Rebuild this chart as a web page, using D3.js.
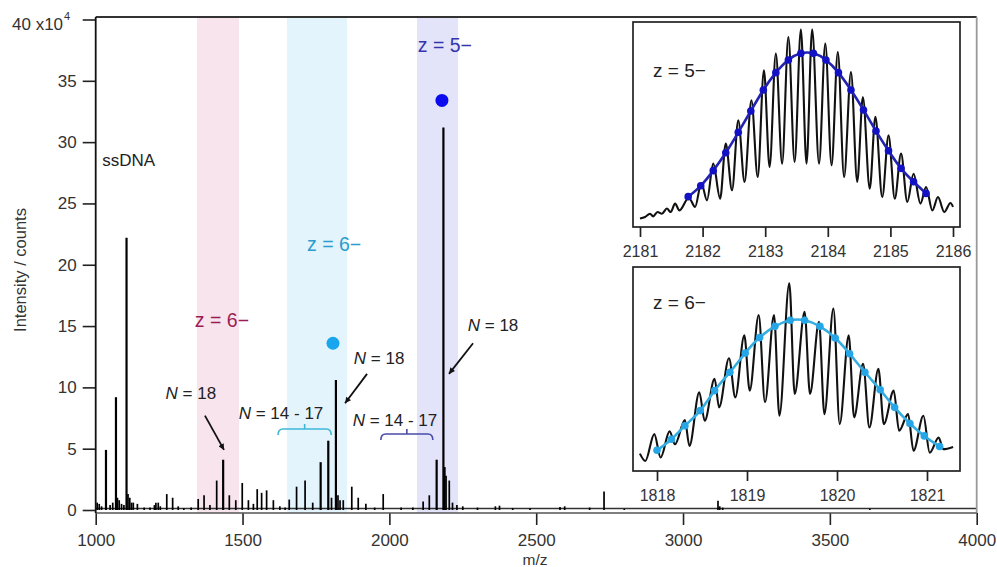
<!DOCTYPE html>
<html>
<head>
<meta charset="utf-8">
<script src="https://cdn.jsdelivr.net/npm/d3@7/dist/d3.min.js"></script>
<style>
  body { margin: 0; background: #fff; }
  svg { display: block; font-family: "Liberation Sans", Arial, Helvetica, sans-serif; }
</style>
</head>
<body>
<svg id="chart" width="997" height="567"></svg>
<script>
// ── Data ─────────────────────────────────────────────────────────────────────
// main spectrum: [m/z, intensity (x10^4 counts)]
const spectrumPeaks = [
  [1005, 0.6], [1012, 0.5], [1020, 0.3], [1035, 4.9], [1049, 0.4], [1058, 0.6],
  [1069, 9.2], [1074, 1.0], [1080, 0.8], [1088, 0.5], [1096, 0.4], [1105, 22.2],
  [1110, 1.3], [1116, 1.0], [1122, 0.6], [1128, 0.6], [1142, 0.5], [1165, 0.2],
  [1185, 0.2], [1200, 0.4], [1205, 0.6], [1213, 0.6], [1220, 0.3], [1242, 1.3],
  [1262, 1.0], [1281, 0.3], [1300, 0.15], [1325, 0.2], [1349, 0.9], [1369, 1.2],
  [1389, 0.4], [1412, 2.4], [1434, 4.1], [1455, 1.2], [1477, 0.8], [1499, 2.2],
  [1520, 0.8], [1537, 0.5], [1550, 1.7], [1565, 1.4], [1582, 1.6], [1605, 0.8],
  [1627, 0.3], [1645, 0.2], [1659, 0.85], [1684, 1.9], [1713, 2.4], [1739, 0.6],
  [1766, 3.9], [1792, 5.65], [1803, 1.0], [1818, 10.6], [1825, 1.2], [1832, 0.8],
  [1843, 0.8], [1872, 1.9], [1894, 1.0], [1920, 0.5], [1950, 0.2], [1979, 1.3],
  [2040, 0.2], [2080, 0.2], [2115, 0.7], [2136, 1.2], [2161, 4.1], [2184, 31.2],
  [2188, 3.5], [2193, 2.8], [2204, 2.4], [2215, 0.6], [2230, 0.4], [2250, 0.3],
  [2300, 0.2], [2361, 0.3], [2375, 0.35], [2420, 0.15], [2479, 0.15], [2581, 0.25],
  [2597, 0.3], [2682, 0.2], [2731, 1.5], [2800, 0.1], [3119, 0.75], [3125, 0.3],
  [3135, 0.2], [3636, 0.1]
];
const baselineLevel = 0.12;

const xTicks = [1000, 1500, 2000, 2500, 3000, 3500, 4000];
const yTicks = [0, 5, 10, 15, 20, 25, 30, 35, 40];

// shaded charge-state windows [from, to]
const bands = [
  { from: 1345, to: 1488, fill: "#f8e4ec" },
  { from: 1651, to: 1856, fill: "#e3f4fd" },
  { from: 2094, to: 2234, fill: "#e3e3f9" }
];

// inset z = 5− : trace and envelope (relative intensity 0-100)
const z5Trace = [
  [2181.00, 4.1], [2181.08, 4.9], [2181.16, 6.5], [2181.21, 5.2], [2181.28, 7.3],
  [2181.35, 6.5], [2181.43, 9.0], [2181.49, 7.3], [2181.56, 11.4], [2181.63, 8.1],
  [2181.78, 14.3], [2181.88, 9.8], [2181.98, 21.5], [2182.07, 13.0], [2182.17, 30.9],
  [2182.28, 13.8], [2182.37, 40.7], [2182.47, 17.9], [2182.57, 52.0], [2182.67, 22.0],
  [2182.78, 61.8], [2182.88, 24.4], [2182.98, 76.4], [2183.07, 29.3], [2183.17, 84.6],
  [2183.27, 30.9], [2183.37, 92.7], [2183.47, 31.7], [2183.57, 96.3], [2183.66, 30.9],
  [2183.75, 96.3], [2183.86, 30.9], [2183.96, 89.5], [2184.06, 30.1], [2184.16, 85.4],
  [2184.26, 24.4], [2184.37, 75.6], [2184.47, 22.0], [2184.56, 63.4], [2184.67, 18.7],
  [2184.76, 53.7], [2184.87, 14.6], [2184.97, 44.7], [2185.07, 13.8], [2185.17, 35.8],
  [2185.27, 12.2], [2185.37, 26.0], [2185.48, 11.4], [2185.57, 19.5], [2185.67, 8.1],
  [2185.76, 14.6], [2185.86, 7.3], [2185.96, 11.7], [2186.00, 9.8]
];
const z5Envelope = [
  [2181.77, 14.8], [2181.97, 20.1], [2182.17, 27.5], [2182.37, 36.2], [2182.57, 46.2],
  [2182.77, 56.6], [2182.97, 66.8], [2183.17, 75.3], [2183.37, 81.5], [2183.57, 84.7],
  [2183.77, 84.7], [2183.97, 81.5], [2184.17, 75.3], [2184.37, 66.8], [2184.57, 57.1],
  [2184.77, 46.8], [2184.97, 37.2], [2185.17, 28.6], [2185.37, 22.1], [2185.57, 16.4]
];
const z5Ticks = [2181, 2182, 2183, 2184, 2185, 2186];

// inset z = 6− : trace and envelope (relative intensity 0-100)
const z6Trace = [
  [1817.81, 8.5], [1817.87, 4.9], [1817.97, 18.1], [1818.04, 6.6], [1818.14, 19.4],
  [1818.20, 13.1], [1818.31, 25.0], [1818.36, 12.3], [1818.47, 38.6], [1818.53, 24.6],
  [1818.64, 45.2], [1818.69, 31.2], [1818.80, 55.3], [1818.87, 36.1], [1818.97, 66.5],
  [1819.03, 39.4], [1819.13, 76.4], [1819.20, 33.7], [1819.30, 76.4], [1819.36, 27.1],
  [1819.47, 92.0], [1819.53, 37.8], [1819.64, 78.0], [1819.70, 37.8], [1819.80, 73.1],
  [1819.86, 27.9], [1819.96, 79.6], [1820.03, 23.0], [1820.13, 66.5], [1820.19, 26.3],
  [1820.29, 52.5], [1820.36, 21.3], [1820.46, 50.1], [1820.52, 23.0], [1820.63, 39.4],
  [1820.69, 19.7], [1820.79, 27.9], [1820.85, 9.9], [1820.96, 27.1], [1821.03, 9.0],
  [1821.13, 16.4], [1821.18, 10.7], [1821.29, 11.8]
];
const z6Envelope = [
  [1818.00, 10.2], [1818.16, 15.6], [1818.31, 22.2], [1818.48, 29.6], [1818.64, 39.4],
  [1818.81, 48.4], [1818.98, 57.8], [1819.14, 65.4], [1819.31, 70.9], [1819.48, 73.9],
  [1819.64, 73.9], [1819.81, 70.9], [1819.98, 65.2], [1820.14, 57.5], [1820.31, 48.4],
  [1820.48, 39.8], [1820.64, 31.2], [1820.81, 23.3], [1820.97, 17.2], [1821.14, 12.0]
];
const z6Ticks = [1818, 1819, 1820, 1821];

// annotations, in data coordinates of the main plot
const zLabels = [
  { text: "z = 6\u2212", mz: 1430, int: 15.5, color: "#9c1d56" },
  { text: "z = 6\u2212", mz: 1812, int: 21.7, color: "#2b9ccc" },
  { text: "z = 5\u2212", mz: 2189, int: 37.9, color: "#3434ad" }
];
const nLabels = [
  { n: "18", mz: 1324, int: 9.5 },
  { n: "14 - 17", mz: 1631, int: 7.9 },
  { n: "18", mz: 1965, int: 12.4 },
  { n: "14 - 17", mz: 2019, int: 7.3 },
  { n: "18", mz: 2353, int: 15.1 }
];
const arrows = [
  [1372, 7.7, 1437, 4.9],
  [1924, 11.1, 1849, 8.7],
  [2285, 13.6, 2203, 11.1]
];
const brackets = [
  { from: 1621, to: 1802, int: 6.6, color: "#3fb6d8" },
  { from: 1971, to: 2148, int: 6.2, color: "#4b4ba8" }
];
const chargeDots = [
  { mz: 1808, int: 13.6, color: "#19a6ee" },
  { mz: 2179, int: 33.4, color: "#0b0bee" }
];

// ── Layout ───────────────────────────────────────────────────────────────────
const svg = d3.select("#chart");
const plotTop = 17, plotBottom = 513;
const x = d3.scaleLinear().domain([1000, 4000]).range([95.7, 976.7]);
const y = d3.scaleLinear().domain([0, 40]).range([510, 19.5]);

// bands
svg.append("g").selectAll("rect").data(bands).join("rect")
  .attr("x", d => x(d.from))
  .attr("width", d => x(d.to) - x(d.from))
  .attr("y", plotTop)
  .attr("height", plotBottom - plotTop)
  .attr("fill", d => d.fill);

// spectrum baseline + sticks
svg.append("line")
  .attr("x1", x(1000)).attr("x2", x(4000))
  .attr("y1", y(baselineLevel)).attr("y2", y(baselineLevel))
  .attr("stroke", "#333").attr("stroke-width", 1.6);

svg.append("g").selectAll("line").data(spectrumPeaks).join("line")
  .attr("x1", d => x(d[0])).attr("x2", d => x(d[0]))
  .attr("y1", y(0)).attr("y2", d => y(d[1]))
  .attr("stroke", "#000")
  .attr("stroke-width", d => d[1] > 3 ? 2.2 : 1.7);

// ── Axes / frame ─────────────────────────────────────────────────────────────
const yAxis = svg.append("g")
  .attr("transform", `translate(${x(1000)},0)`)
  .call(d3.axisLeft(y).tickValues(yTicks).tickSize(13).tickPadding(6)
    .tickFormat(d => d === 40 ? "" : d));
const xAxis = svg.append("g")
  .attr("transform", `translate(0,${plotBottom})`)
  .call(d3.axisBottom(x).tickValues(xTicks).tickSize(12).tickPadding(9)
    .tickFormat(d3.format("d")));
[yAxis, xAxis].forEach(g => {
  g.select(".domain").remove();
  g.selectAll(".tick line").attr("stroke", "#222").attr("stroke-width", 1.6);
  g.selectAll(".tick text").attr("font-size", 17).attr("fill", "#333")
    .attr("font-family", "Liberation Sans, Arial, sans-serif");
});

// top tick label with exponent
const expLabel = svg.append("text")
  .attr("x", 12).attr("y", 30)
  .attr("font-size", 17).attr("fill", "#333");
expLabel.append("tspan").text("40 x10");
expLabel.append("tspan").text("4").attr("font-size", 11).attr("dy", -10).attr("dx", 1);

// frame lines
svg.append("line").attr("x1", x(1000)).attr("x2", x(4000)).attr("y1", plotTop).attr("y2", plotTop)
  .attr("stroke", "#333").attr("stroke-width", 1.8);
svg.append("line").attr("x1", x(4000)).attr("x2", x(4000)).attr("y1", plotTop).attr("y2", plotBottom)
  .attr("stroke", "#999").attr("stroke-width", 1.8);
svg.append("line").attr("x1", x(1000)).attr("x2", x(4000)).attr("y1", plotBottom).attr("y2", plotBottom)
  .attr("stroke", "#555").attr("stroke-width", 1.6);
svg.append("line").attr("x1", x(1000)).attr("x2", x(1000)).attr("y1", plotTop).attr("y2", plotBottom)
  .attr("stroke", "#111").attr("stroke-width", 1.8);

// axis titles
svg.append("text")
  .attr("transform", "translate(26,270) rotate(-90)")
  .attr("text-anchor", "middle").attr("font-size", 16.5).attr("fill", "#333")
  .text("Intensity / counts");
svg.append("text")
  .attr("x", 535).attr("y", 565)
  .attr("text-anchor", "middle").attr("font-size", 15.5).attr("fill", "#333")
  .text("m/z");

// ── Annotations ──────────────────────────────────────────────────────────────
svg.append("text")
  .attr("x", x(1022)).attr("y", y(28.5)).attr("dy", "0.35em")
  .attr("font-size", 17).attr("fill", "#222")
  .text("ssDNA");

svg.append("g").selectAll("text").data(zLabels).join("text")
  .attr("x", d => x(d.mz)).attr("y", d => y(d.int)).attr("dy", "0.35em")
  .attr("text-anchor", "middle").attr("font-size", 19.5)
  .attr("fill", d => d.color)
  .text(d => d.text);

const nText = svg.append("g").selectAll("text").data(nLabels).join("text")
  .attr("x", d => x(d.mz)).attr("y", d => y(d.int)).attr("dy", "0.35em")
  .attr("text-anchor", "middle").attr("font-size", 17).attr("fill", "#222");
nText.append("tspan").attr("font-style", "italic").text("N");
nText.append("tspan").text(d => " = " + d.n);

svg.append("defs").append("marker")
  .attr("id", "arrow")
  .attr("viewBox", "0 0 10 10")
  .attr("refX", 10).attr("refY", 5)
  .attr("markerWidth", 10).attr("markerHeight", 6)
  .attr("markerUnits", "userSpaceOnUse")
  .attr("orient", "auto")
  .append("path").attr("d", "M0,0 L10,5 L0,10 z").attr("fill", "#111");

svg.append("g").selectAll("line").data(arrows).join("line")
  .attr("x1", d => x(d[0])).attr("y1", d => y(d[1]))
  .attr("x2", d => x(d[2])).attr("y2", d => y(d[3]))
  .attr("stroke", "#111").attr("stroke-width", 1.8)
  .attr("marker-end", "url(#arrow)");

svg.append("g").selectAll("path").data(brackets).join("path")
  .attr("d", d => {
    const x1 = x(d.from), x2 = x(d.to), xc = (x1 + x2) / 2, yb = y(d.int);
    return `M${x1},${yb + 6} Q${x1},${yb} ${x1 + 5},${yb} L${x2 - 5},${yb} Q${x2},${yb} ${x2},${yb + 6}` +
      ` M${xc},${yb} L${xc},${yb - 5}`;
  })
  .attr("fill", "none").attr("stroke", d => d.color).attr("stroke-width", 1.6);

svg.append("g").selectAll("circle").data(chargeDots).join("circle")
  .attr("cx", d => x(d.mz)).attr("cy", d => y(d.int)).attr("r", 6.5)
  .attr("fill", d => d.color);

// ── Insets ───────────────────────────────────────────────────────────────────
function drawInset(opts) {
  const { box, domain, range, trace, envelope, ticks, label, color, dotColor } = opts;
  const g = svg.append("g");
  const ix = d3.scaleLinear().domain(domain).range(range);
  const iy = d3.scaleLinear().domain([0, 100]).range([box.y + box.h, box.y]);

  g.append("rect")
    .attr("x", box.x).attr("y", box.y).attr("width", box.w).attr("height", box.h)
    .attr("fill", "#fff");

  g.append("path").datum(trace)
    .attr("d", d3.line().x(d => ix(d[0])).y(d => iy(d[1])).curve(d3.curveMonotoneX))
    .attr("fill", "none").attr("stroke", "#111").attr("stroke-width", 2.1);

  g.append("path").datum(envelope)
    .attr("d", d3.line().x(d => ix(d[0])).y(d => iy(d[1])).curve(d3.curveNatural))
    .attr("fill", "none").attr("stroke", color).attr("stroke-width", 2.6);

  g.append("g").selectAll("circle").data(envelope).join("circle")
    .attr("cx", d => ix(d[0])).attr("cy", d => iy(d[1])).attr("r", 3.8)
    .attr("fill", dotColor);

  g.append("rect")
    .attr("x", box.x).attr("y", box.y).attr("width", box.w).attr("height", box.h)
    .attr("fill", "none").attr("stroke", "#222").attr("stroke-width", 1.7);

  const ax = g.append("g")
    .attr("transform", `translate(0,${box.y + box.h})`)
    .call(d3.axisBottom(ix).tickValues(ticks).tickSize(10).tickPadding(9).tickFormat(d3.format("d")));
  ax.select(".domain").remove();
  ax.selectAll(".tick line").attr("stroke", "#222").attr("stroke-width", 1.7);
  ax.selectAll(".tick text").attr("font-size", 16).attr("fill", "#333")
    .attr("font-family", "Liberation Sans, Arial, sans-serif");

  g.append("text")
    .attr("x", box.x + 20).attr("y", box.y + label.dy)
    .attr("font-size", 19).attr("fill", "#222")
    .text(label.text);
}

drawInset({
  box: { x: 633, y: 22, w: 327, h: 205 },
  domain: [2181, 2186], range: [640, 953],
  trace: z5Trace, envelope: z5Envelope, ticks: z5Ticks,
  label: { text: "z = 5\u2212", dy: 55 },
  color: "#2323b2", dotColor: "#1212c4"
});

drawInset({
  box: { x: 633, y: 267, w: 327, h: 204 },
  domain: [1818, 1821], range: [657, 927],
  trace: z6Trace, envelope: z6Envelope, ticks: z6Ticks,
  label: { text: "z = 6\u2212", dy: 42 },
  color: "#34ade0", dotColor: "#26a6e6"
});
</script>
</body>
</html>
